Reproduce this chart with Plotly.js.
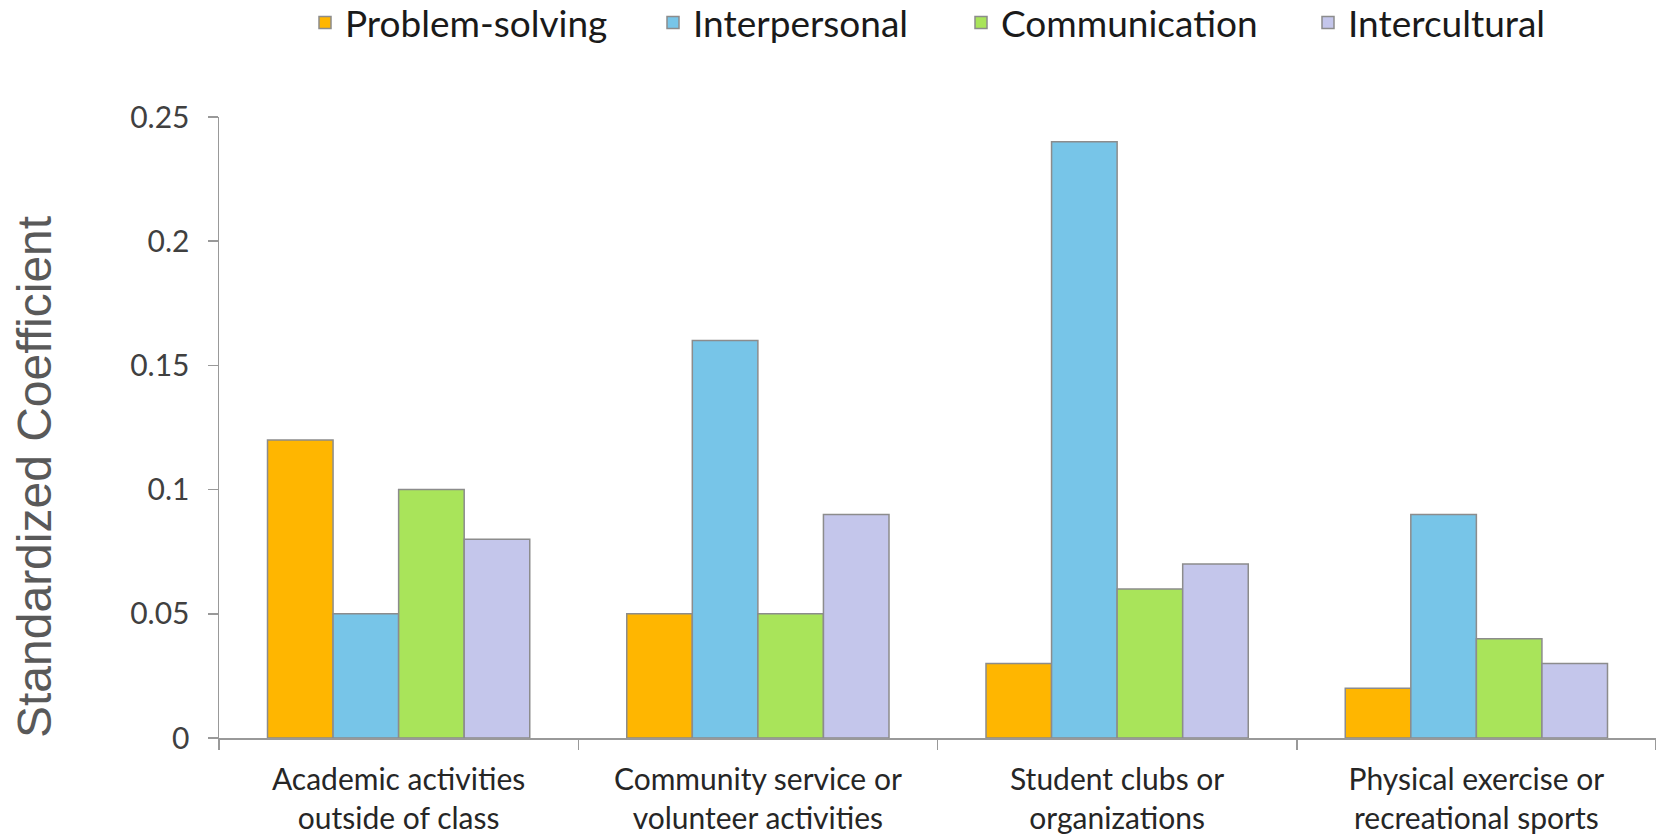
<!DOCTYPE html>
<html>
<head>
<meta charset="utf-8">
<script src="https://cdn.plot.ly/plotly-3.0.1.min.js"></script>
<style>
html,body{margin:0;padding:0;background:#fff;}
#chart{width:1656px;height:838px;}
</style>
</head>
<body>
<div id="chart"></div>
<script>
var categories = [
  'Academic activities<br>outside of class',
  'Community service or<br>volunteer activities',
  'Student clubs or<br>organizations',
  'Physical exercise or<br>recreational sports'
];
var seriesNames = ['Problem-solving', 'Interpersonal', 'Communication', 'Intercultural'];
var problemSolving = [0.12, 0.05, 0.03, 0.02];
var interpersonal  = [0.05, 0.16, 0.24, 0.09];
var communication  = [0.10, 0.05, 0.06, 0.04];
var intercultural  = [0.08, 0.09, 0.07, 0.03];
var yTickVals = [0, 0.05, 0.1, 0.15, 0.2, 0.25];
var yTickText = ['0', '0.05', '0.1', '0.15', '0.2', '0.25'];
var yTitle = 'Standardized Coefficient';

var seriesValues = [problemSolving, interpersonal, communication, intercultural];
var colors = ['#FFB600', '#77C5E8', '#A9E45A', '#C4C6EB'];
var legendIds = ['legend', 'legend2', 'legend3', 'legend4'];
var legendX = [345, 693, 1001, 1348];

var W = 1656, H = 838, ML = 219, MR = 0, MT = 117, MB = 100;
var PW = W - ML - MR, PH = H - MT - MB;

var traces = seriesValues.map(function (vals, i) {
  return {
    type: 'bar',
    name: seriesNames[i],
    x: categories,
    y: vals,
    legend: legendIds[i],
    marker: {color: colors[i], line: {color: '#8c8c8c', width: 1.5}},
    hoverinfo: 'x+y+name'
  };
});

var legendFont = {family: 'Lato, "Open Sans", sans-serif', size: 37, color: '#1a1a1a'};
var layout = {
  width: W, height: H,
  margin: {l: ML, r: MR, t: MT, b: MB, pad: 0, autoexpand: false},
  paper_bgcolor: '#ffffff', plot_bgcolor: '#ffffff',
  barmode: 'group', bargap: 0.27, bargroupgap: 0,
  showlegend: true,
  xaxis: {
    type: 'category',
    showline: true, linecolor: '#999999', linewidth: 1.5,
    ticks: 'outside', tickson: 'boundaries', ticklen: 10, tickcolor: '#999999', tickwidth: 1.5,
    showgrid: false, zeroline: false,
    tickfont: {family: 'Lato, "Open Sans", sans-serif', size: 30, color: '#262626'},
    ticklabelstandoff: 14,
    automargin: false
  },
  yaxis: {
    range: [0, 0.25],
    tickvals: yTickVals, ticktext: yTickText,
    showline: true, linecolor: '#999999', linewidth: 1.5,
    ticks: 'outside', ticklen: 10, tickcolor: '#999999', tickwidth: 1.5,
    showgrid: false, zeroline: false,
    tickfont: {family: 'Lato, "Open Sans", sans-serif', size: 30, color: '#404040'},
    ticklabelstandoff: 12,
    automargin: false
  },
  annotations: [{
    text: yTitle,
    xref: 'paper', yref: 'paper',
    x: (34 - ML) / PW, y: (H - MB - 477) / PH,
    xanchor: 'center', yanchor: 'middle',
    textangle: -90, showarrow: false,
    font: {family: '"Liberation Sans", Arial, sans-serif', size: 48, color: '#595959'}
  }]
};
legendIds.forEach(function (id, i) {
  layout[id] = {
    x: (legendX[i] - 40 - ML) / PW, xanchor: 'left',
    y: 1 + (MT - 23) / PH, yanchor: 'middle',
    orientation: 'h',
    bgcolor: 'rgba(0,0,0,0)', borderwidth: 0,
    font: legendFont
  };
});

Plotly.newPlot('chart', traces, layout, {displayModeBar: false, staticPlot: true});
</script>
</body>
</html>
